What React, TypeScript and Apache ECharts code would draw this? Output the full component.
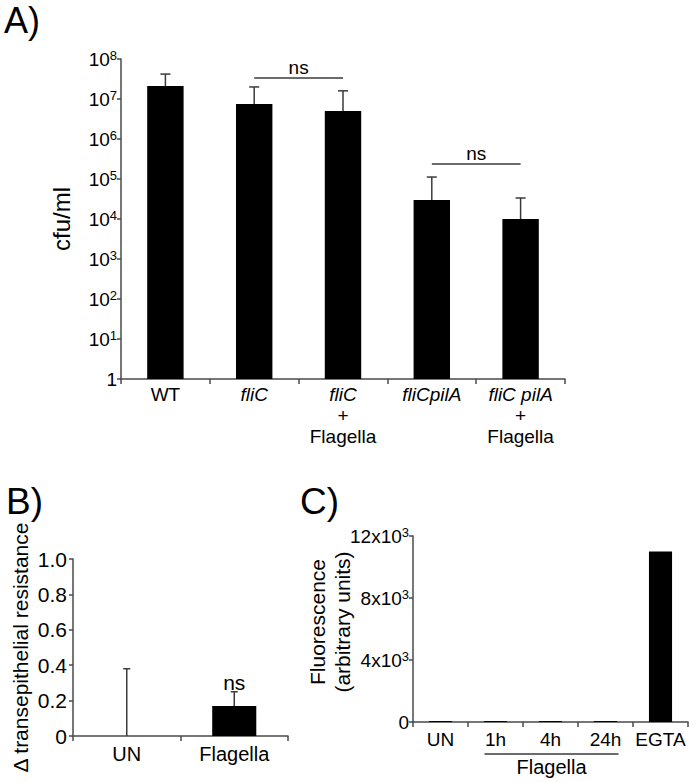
import React, { useEffect, useRef } from "react";
import * as echarts from "echarts";

// ---------- Panel A data ----------
const categoriesA = ["WT", "fliC", "fliC + Flagella", "fliCpilA", "fliC pilA + Flagella"];
const labelsA = ["WT", "{i|fliC}", "{i|fliC}\n+\nFlagella", "{i|fliCpilA}", "{i|fliC pilA}\n+\nFlagella"];
const valuesA = [2.1e7, 7.5e6, 5.0e6, 3.0e4, 1.0e4];
const upperA = [4.2e7, 2.0e7, 1.6e7, 1.12e5, 3.35e4];
const sigA = [
  [1, 2, 3.35e7],
  [3, 4, 2.37e5],
];

// ---------- Panel B data ----------
const categoriesB = ["UN", "Flagella"];
const valuesB = [0, 0.17];
const upperB = [0.38, 0.25];
const sigB = [[1, 0.25]];

// ---------- Panel C data ----------
const categoriesC = ["UN", "1h", "4h", "24h", "EGTA"];
const valuesC = [60, 60, 60, 60, 11000];
const groupC = [[1, 3, 0]];

const FONT = "'Liberation Sans', Arial, Helvetica, sans-serif";
const AXIS = "#4a4a4a";
const ERR = "#3a3a3a";

function errorSeries(axisIdx: number, vals: number[], ups: number[], cap: number) {
  return {
    type: "custom",
    xAxisIndex: axisIdx,
    yAxisIndex: axisIdx,
    data: vals.map((v, i) => [i, v, ups[i]]),
    encode: { x: 0, y: [1, 2] },
    z: 1,
    renderItem: (params: any, api: any) => {
      const b = api.coord([api.value(0), api.value(1)]);
      const t = api.coord([api.value(0), api.value(2)]);
      const st = { stroke: ERR, lineWidth: 1.5 };
      return {
        type: "group",
        children: [
          { type: "line", shape: { x1: b[0], y1: b[1], x2: t[0], y2: t[1] }, style: st },
          { type: "line", shape: { x1: t[0] - cap / 2, y1: t[1], x2: t[0] + cap / 2, y2: t[1] }, style: st },
        ],
      };
    },
  };
}

export default function App() {
  const ref = useRef<HTMLDivElement>(null);
  useEffect(() => {
    if (!ref.current) return;
    const chart = echarts.init(ref.current, undefined, { renderer: "svg" });

    const axisLine = { show: true, lineStyle: { color: AXIS, width: 1.5 } };
    const axisTick = { show: true, length: 4, lineStyle: { color: AXIS, width: 1.5 } };

    const option: any = {
      animation: false,
      backgroundColor: "#ffffff",
      textStyle: { fontFamily: FONT },
      grid: [
        { left: 121, top: 59, width: 444, height: 320 },
        { left: 73, top: 559, width: 215, height: 177 },
        { left: 413, top: 536, width: 275, height: 186 },
      ],
      xAxis: [
        {
          gridIndex: 0,
          type: "category",
          data: categoriesA,
          axisLine,
          axisTick: { ...axisTick, length: 5 },
          axisLabel: {
            interval: 0,
            margin: 5,
            color: "#000",
            fontSize: 19,
            lineHeight: 21,
            fontFamily: FONT,
            formatter: (v: string, i: number) => labelsA[i],
            rich: {
              i: { fontStyle: "italic", fontSize: 19, lineHeight: 21, fontFamily: FONT, color: "#000" },
            },
          },
        },
        {
          gridIndex: 1,
          type: "category",
          data: categoriesB,
          axisLine,
          axisTick: { ...axisTick, length: 5 },
          axisLabel: { interval: 0, margin: 8, color: "#000", fontSize: 20, fontFamily: FONT },
        },
        {
          gridIndex: 2,
          type: "category",
          data: categoriesC,
          axisLine,
          axisTick: { ...axisTick, length: 5 },
          axisLabel: { interval: 0, margin: 8, color: "#000", fontSize: 19, fontFamily: FONT },
        },
      ],
      yAxis: [
        {
          gridIndex: 0,
          type: "log",
          logBase: 10,
          min: 1,
          max: 1e8,
          splitNumber: 8,
          splitLine: { show: false },
          axisLine,
          axisTick,
          name: "cfu/ml",
          nameLocation: "middle",
          nameGap: 48,
          nameTextStyle: { fontSize: 24, color: "#000", fontFamily: FONT },
          axisLabel: {
            margin: 4,
            color: "#000",
            fontSize: 19,
            lineHeight: 21,
            fontFamily: FONT,
            formatter: (v: number) => {
              const e = Math.round(Math.log10(v));
              return e === 0 ? "1" : `10{sup|${e}}`;
            },
            rich: {
              sup: { fontSize: 13, lineHeight: 13, verticalAlign: "top", color: "#000", fontFamily: FONT },
            },
          },
        },
        {
          gridIndex: 1,
          type: "value",
          min: 0,
          max: 1,
          interval: 0.2,
          splitLine: { show: false },
          axisLine,
          axisTick,
          name: "Δ transepithelial resistance",
          nameLocation: "middle",
          nameGap: 42,
          nameTextStyle: { fontSize: 21, color: "#000", fontFamily: FONT },
          axisLabel: {
            margin: 6,
            color: "#000",
            fontSize: 21,
            fontFamily: FONT,
            formatter: (v: number) => (v === 0 ? "0" : v.toFixed(1)),
          },
        },
        {
          gridIndex: 2,
          type: "value",
          min: 0,
          max: 12000,
          interval: 4000,
          splitLine: { show: false },
          axisLine,
          axisTick,
          axisLabel: {
            margin: 4,
            color: "#000",
            fontSize: 19,
            lineHeight: 21,
            fontFamily: FONT,
            formatter: (v: number) => (v === 0 ? "0" : `${v / 1000}x10{sup|3}`),
            rich: {
              sup: { fontSize: 13, lineHeight: 13, verticalAlign: "top", color: "#000", fontFamily: FONT },
            },
          },
        },
      ],
      series: [
        {
          type: "bar",
          xAxisIndex: 0,
          yAxisIndex: 0,
          data: valuesA,
          barWidth: "41%",
          itemStyle: { color: "#000" },
          z: 2,
        },
        errorSeries(0, valuesA, upperA, 10),
        {
          type: "custom",
          xAxisIndex: 0,
          yAxisIndex: 0,
          data: sigA,
          encode: { x: [0, 1], y: 2 },
          renderItem: (params: any, api: any) => {
            const p1 = api.coord([api.value(0), api.value(2)]);
            const p2 = api.coord([api.value(1), api.value(2)]);
            return {
              type: "group",
              children: [
                { type: "line", shape: { x1: p1[0], y1: p1[1], x2: p2[0], y2: p2[1] }, style: { stroke: ERR, lineWidth: 1.5 } },
                {
                  type: "text",
                  x: (p1[0] + p2[0]) / 2,
                  y: p1[1] - 1,
                  style: { text: "ns", fontSize: 19, fontFamily: FONT, fill: "#000", textAlign: "center", textVerticalAlign: "bottom" },
                },
              ],
            };
          },
        },
        {
          type: "bar",
          xAxisIndex: 1,
          yAxisIndex: 1,
          data: valuesB,
          barWidth: "41%",
          itemStyle: { color: "#000" },
          z: 2,
        },
        errorSeries(1, valuesB, upperB, 7),
        {
          type: "custom",
          xAxisIndex: 1,
          yAxisIndex: 1,
          data: sigB,
          encode: { x: 0, y: 1 },
          renderItem: (params: any, api: any) => {
            const p = api.coord([api.value(0), api.value(1)]);
            return {
              type: "text",
              x: p[0],
              y: p[1] + 1,
              style: { text: "ns", fontSize: 21, fontFamily: FONT, fill: "#000", textAlign: "center", textVerticalAlign: "bottom" },
            };
          },
        },
        {
          type: "bar",
          xAxisIndex: 2,
          yAxisIndex: 2,
          data: valuesC,
          barWidth: "42%",
          itemStyle: { color: "#000" },
          z: 2,
        },
        {
          type: "custom",
          xAxisIndex: 2,
          yAxisIndex: 2,
          data: groupC,
          encode: { x: [0, 1], y: 2 },
          clip: false,
          renderItem: (params: any, api: any) => {
            const p1 = api.coord([api.value(0), api.value(2)]);
            const p2 = api.coord([api.value(1), api.value(2)]);
            const y = p1[1] + 32;
            return {
              type: "group",
              children: [
                { type: "line", shape: { x1: p1[0] - 11, y1: y, x2: p2[0] + 13, y2: y }, style: { stroke: ERR, lineWidth: 1.5 } },
                {
                  type: "text",
                  x: (p1[0] + p2[0]) / 2 + 1,
                  y: y + 3,
                  style: { text: "Flagella", fontSize: 20, fontFamily: FONT, fill: "#000", textAlign: "center", textVerticalAlign: "top" },
                },
              ],
            };
          },
        },
      ],
      graphic: [
        { type: "text", left: 4, top: 2, style: { text: "A)", fontSize: 36, fontFamily: FONT, fill: "#000" } },
        { type: "text", left: 6, top: 483, style: { text: "B)", fontSize: 37, fontFamily: FONT, fill: "#000" } },
        { type: "text", left: 300, top: 483, style: { text: "C)", fontSize: 37, fontFamily: FONT, fill: "#000" } },
        {
          type: "text",
          x: 330,
          y: 622,
          rotation: Math.PI / 2,
          style: {
            text: "Fluorescence\n(arbitrary units)",
            fontSize: 21,
            lineHeight: 25,
            fontFamily: FONT,
            fill: "#000",
            textAlign: "center",
            textVerticalAlign: "middle",
          },
        },
      ],
    };

    chart.setOption(option);
    return () => chart.dispose();
  }, []);

  return (
    <div
      ref={ref}
      style={{ position: "absolute", left: 0, top: 0, width: 696, height: 782, background: "#fff" }}
    />
  );
}
